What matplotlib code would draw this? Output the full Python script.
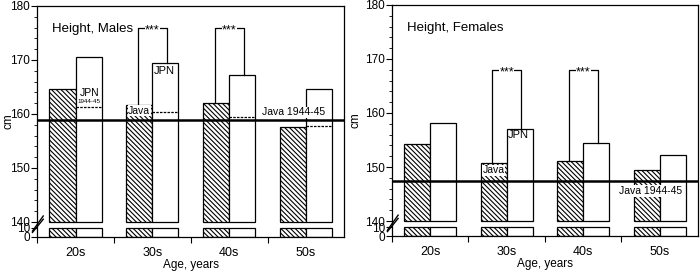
import numpy as np
import matplotlib
matplotlib.use('Agg')
import matplotlib.pyplot as plt

plt.rcParams['font.family'] = ['Liberation Sans', 'DejaVu Sans']
plt.rcParams['hatch.linewidth'] = 0.8

# data (cm)
ages = ['20s', '30s', '40s', '50s']
male_java = [164.7, 161.7, 162.0, 157.6]
male_jpn = [170.5, 169.5, 167.3, 164.7]
male_jpn_1944 = [161.2, 160.3, 159.4, 157.8]
male_java_1944 = 158.8
female_java = [154.3, 150.7, 151.1, 149.5]
female_jpn = [158.2, 157.1, 154.5, 152.3]
female_java_1944 = 147.4
stub = 10      # lower part of the broken axis
base = 140     # upper part starts here

GAP = 1.11
def fwd(v):
    v = np.asarray(v, float)
    return np.where(v <= 10, v / 6.0,
                    np.where(v <= 140, 10 / 6.0 + (v - 10) * GAP / 130.0,
                             10 / 6.0 + GAP + (v - 140)))

def inv(u):
    u = np.asarray(u, float)
    a = 10 / 6.0
    return np.where(u <= a, u * 6.0,
                    np.where(u <= a + GAP, 10 + (u - a) * 130.0 / GAP,
                             140 + (u - a - GAP)))

W = 0.34
HATCH = '\\' * 7

def panel(ax, java, jpn, java44, title, sig_top, jpn44=None, ylab_x=-0.1):
    x = np.arange(len(ages))
    ax.set_yscale('function', functions=(fwd, inv))
    ax.set_ylim(0, 180)
    ax.set_xlim(-0.5, len(ages) - 0.5)
    # upper parts
    ax.bar(x - W / 2, np.array(java) - base, W, bottom=base, color='white',
           edgecolor='black', hatch=HATCH, lw=0.9, zorder=2)
    ax.bar(x + W / 2, np.array(jpn) - base, W, bottom=base, color='white',
           edgecolor='black', lw=0.9, zorder=2)
    # lower stubs
    ax.bar(x - W / 2, stub, W, bottom=0, color='white', edgecolor='black',
           hatch=HATCH, lw=0.9, zorder=2)
    ax.bar(x + W / 2, stub, W, bottom=0, color='white', edgecolor='black',
           lw=0.9, zorder=2)
    ax.axhline(java44, color='black', lw=1.8, zorder=4)
    if jpn44 is not None:
        for i, v in enumerate(jpn44):
            ax.plot([i, i + W], [v, v], color='black', lw=0.9, ls=(0, (2, 1)), zorder=3)
    # significance brackets 30s / 40s
    for i in [1, 2]:
        ax.plot([i - 0.19, i - 0.19, i + 0.19, i + 0.19],
                [java[i], sig_top, sig_top, jpn[i]], color='black', lw=0.9, zorder=3)
        ax.text(i, sig_top - 0.5, '***', ha='center', va='center', fontsize=9,
                bbox=dict(facecolor='white', edgecolor='none', pad=0.2), zorder=5)
    ax.text(0.05, 0.9, title, transform=ax.transAxes, fontsize=9.5, va='center')

    ax.set_xticks([-0.5, 0.5, 1.5, 2.5])
    ax.set_xticklabels([])
    ax.set_xticks(x, minor=True)
    ax.set_xticklabels(ages, minor=True, fontsize=9)
    ax.tick_params(axis='x', which='major', length=4, direction='out')
    ax.tick_params(axis='x', which='minor', length=0, pad=7)
    ax.set_yticks([0, 10, 140, 150, 160, 170, 180])
    ax.set_yticks([v for v in range(142, 180, 2) if v % 10], minor=True)
    ax.tick_params(axis='y', which='major', length=4, labelsize=8.5, pad=1)
    ax.tick_params(axis='y', which='minor', length=2.5)
    ax.set_xlabel('Age, years', fontsize=8.5, labelpad=0)
    ax.set_ylabel('cm', fontsize=8.5)
    ax.yaxis.set_label_coords(ylab_x, 0.5)
    for s in ax.spines.values():
        s.set_linewidth(0.9)
    # break marks on the y axis
    for d in [0.0, 3.0]:
        ax.plot([-0.015, 0.02], [5 + d * 0.5, 140.5 + d * 0.2], color='black', lw=1.0,
                transform=ax.get_yaxis_transform(), clip_on=False, zorder=6)


fig = plt.figure(figsize=(7, 2.72), dpi=100)
ax1 = fig.add_axes([0.053, 0.129, 0.439, 0.849])
ax2 = fig.add_axes([0.56, 0.132, 0.437, 0.85])

panel(ax1, male_java, male_jpn, male_java_1944, 'Height, Males', 176, male_jpn_1944, ylab_x=-0.075)
panel(ax2, female_java, female_jpn, female_java_1944, 'Height, Females', 168, ylab_x=-0.1)

wb = dict(facecolor='white', edgecolor='none', pad=0.5)
ax1.text(0 + W / 2 + 0.01, 163.8, 'JPN', ha='center', va='center', fontsize=7.5, zorder=5)
ax1.text(0 + W / 2 + 0.01, 162.3, '1944-45', ha='center', va='center', fontsize=4.5, zorder=5)
ax1.text(1 - W / 2, 160.6, 'Java', ha='center', va='center', fontsize=7.5, bbox=wb, zorder=5)
ax1.text(1 + W / 2 - 0.01, 168.0, 'JPN', ha='center', va='center', fontsize=8, zorder=5)
ax1.text(2.84, 160.3, 'Java 1944-45', ha='center', va='center', fontsize=7.5, bbox=wb, zorder=5)

ax2.text(1 - W / 2, 149.4, 'Java', ha='center', va='center', fontsize=7.5, bbox=wb, zorder=5)
ax2.text(1 + 0.15, 156.0, 'JPN', ha='center', va='center', fontsize=8, zorder=5)
ax2.text(2.88, 145.6, 'Java 1944-45', ha='center', va='center', fontsize=7.5, bbox=wb, zorder=5)

fig.savefig('out.png', dpi=100)
